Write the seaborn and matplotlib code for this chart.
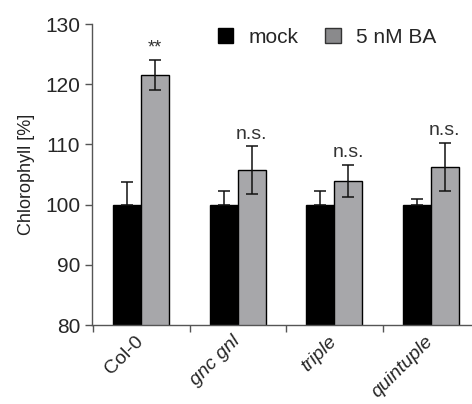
import numpy as np
import pandas as pd
import matplotlib.pyplot as plt
import matplotlib.transforms as mtransforms
import seaborn as sns
from matplotlib.patches import Patch

# data
lines = ['Col-0', 'gnc gnl', 'triple', 'quintuple']
treatments = ['mock', '5 nM BA']
mock_mean = [100, 100, 100, 100]
mock_err = [3.7, 2.3, 2.3, 1.0]
ba_mean = [121.5, 105.7, 103.9, 106.3]
ba_err = [2.5, 4.0, 2.7, 4.0]
signif = ['**', 'n.s.', 'n.s.', 'n.s.']

df = pd.DataFrame({
    'Line': lines * 2,
    'Treatment': [treatments[0]] * 4 + [treatments[1]] * 4,
    'Chlorophyll': mock_mean + ba_mean,
    'err': mock_err + ba_err,
})

sns.set_style('ticks')
plt.rcParams['font.family'] = ['Liberation Sans', 'DejaVu Sans']

pal = {'mock': '#000000', '5 nM BA': '#a7a7aa'}

fig = plt.figure(figsize=(4.72, 4.04), dpi=100)
ax = fig.add_axes([0.195, 0.1955, 0.81, 0.745])

sns.barplot(data=df, x='Line', y='Chlorophyll', hue='Treatment', palette=pal,
            width=0.58, errorbar=None, edgecolor='black', linewidth=1,
            ax=ax, legend=False)

# error bars and significance labels on top of the bars
for container, tr in zip(ax.containers, treatments):
    sub = df[df.Treatment == tr]
    for bar, (_, row) in zip(container, sub.iterrows()):
        xc = bar.get_x() + bar.get_width() / 2
        if tr == 'mock':
            yerr = [[0], [row.err]]  # lower half is hidden in the black bar
        else:
            yerr = row.err
        ax.errorbar(xc, row.Chlorophyll, yerr=yerr, fmt='none',
                    ecolor='#111111', elinewidth=1.1, capsize=4, capthick=1.1)
        if tr == '5 nM BA':
            lab = signif[lines.index(row.Line)]
            ax.text(xc, row.Chlorophyll + row.err + 0.6, lab, ha='center',
                    va='bottom', fontsize=13 if lab == '**' else 14, color='#333333')

ax.set_ylim(80, 130)
ax.set_yticks([80, 90, 100, 110, 120, 130])
ax.set_xlim(-0.51, 3.45)
ax.set_ylabel('Chlorophyll [%]', fontsize=13, color='#222222', labelpad=7)
ax.set_xlabel('')

ax.set_xticks(range(len(lines)))
ax.set_xticklabels(lines, rotation=45, ha='right', va='center',
                   rotation_mode='anchor', fontsize=14)
shift = mtransforms.ScaledTranslation(9 / 100, 0, fig.dpi_scale_trans)
for i, t in enumerate(ax.get_xticklabels()):
    t.set_transform(t.get_transform() + shift)
    if i > 0:
        t.set_style('italic')
ax.tick_params(axis='x', which='major', length=0, pad=10)
ax.set_xticks([-0.5, 0.5, 1.5, 2.5], minor=True)
ax.tick_params(axis='x', which='minor', length=5, width=1, color='#555555')
ax.tick_params(axis='y', labelsize=15, length=5, width=1, color='#555555')

sns.despine(ax=ax)
for s in ['left', 'bottom']:
    ax.spines[s].set_color('#555555')
    ax.spines[s].set_linewidth(1)

handles = [Patch(facecolor='#000000', edgecolor='black'),
           Patch(facecolor='#8a8a8c', edgecolor='#333333')]
ax.legend(handles, treatments, loc='upper right', ncol=2, frameon=False,
          fontsize=15, handlelength=0.75, handleheight=0.75, handletextpad=0.75,
          columnspacing=1.25, bbox_to_anchor=(0.95, 1.05))

fig.savefig('out.png', dpi=100)
